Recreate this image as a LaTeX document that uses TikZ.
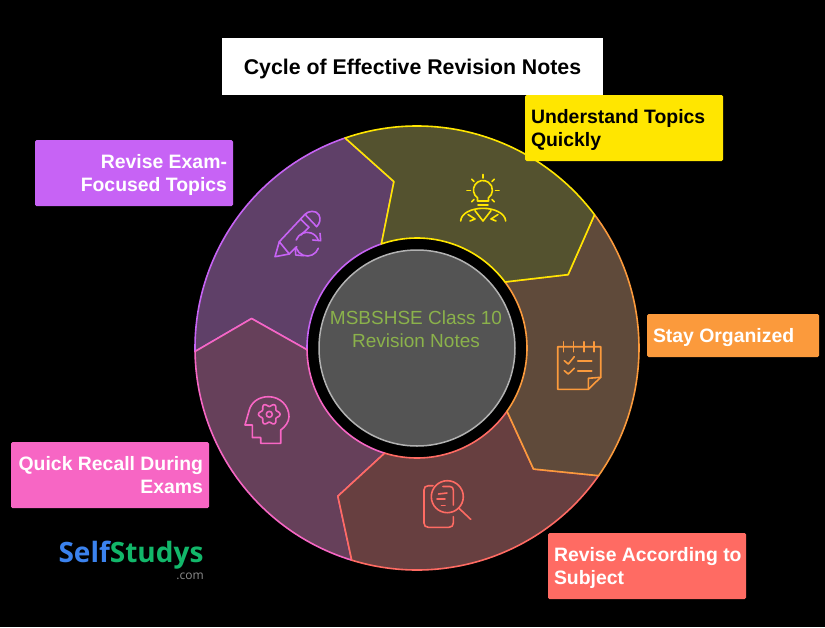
\documentclass[tikz,border=0pt]{standalone}
\usepackage{fontspec}
\setmainfont{Liberation Sans}
\newfontfamily\logofont{Open Sans}
\definecolor{cyellow}{HTML}{FFE600}
\definecolor{corange}{HTML}{FB9A3C}
\definecolor{cred}{HTML}{FF6B63}
\definecolor{cpink}{HTML}{F766C4}
\definecolor{cpurple}{HTML}{C763F5}
\definecolor{fyellow}{HTML}{54522F}
\definecolor{forange}{HTML}{5F4A3A}
\definecolor{fred}{HTML}{673F40}
\definecolor{fpink}{HTML}{66405A}
\definecolor{fpurple}{HTML}{5F4068}
\definecolor{ctext}{HTML}{8BB24B}
\definecolor{lblue}{HTML}{3B82EE}
\definecolor{lgreen}{HTML}{12B76A}
\begin{document}
\begin{tikzpicture}[x=1pt,y=-1pt]
		\tikzstyle{segment}=[line width=1.6pt,line join=round]
		\tikzstyle{icon}=[line width=1.6pt,line cap=round,line join=round]
		\tikzstyle{tag}=[rounded corners=1.5pt,inner sep=6pt,text=white,text height=14pt,text depth=24pt,
							minimum height=66pt,text width=186pt,
							font=\fontsize{19.4}{23}\selectfont\bfseries]
		
		\fill[black] (0,0) rectangle (825,627);
		
		% segments
		\begin{scope}[shift={(417,348)}]
			\foreach \edge/\inner/\a in {cpurple/fpurple/-180.9, cpink/fpink/107.1, cred/fred/35.1, corange/forange/-36.9, cyellow/fyellow/-108.9}
				\draw[segment,draw=\edge,fill=\inner] (\a:222) arc[start angle=\a,delta angle=72,radius=222] -- (\a+83:168) -- (\a+72:110) arc[start angle=\a+72,delta angle=-72,radius=110] -- (\a+11:168) -- cycle;
			
			% centre
			\node[circle,draw=black!30,line width=1.5pt,fill=black!67,minimum size=196pt,inner sep=0pt] (centre) at (0,0) {};
			\node[text=ctext,align=center,inner sep=0pt,font=\fontsize{19}{23}\selectfont] (centrelabel) at (-1,-18.5) {MSBSHSE Class 10\\Revision Notes};
		\end{scope}
		
		% title
		\node[fill=white,minimum width=381pt,minimum height=57pt,inner sep=0pt,text depth=0pt,font=\fontsize{21.3}{26}\selectfont\bfseries] (title) at (412.5,66.5) {Cycle of Effective Revision Notes};
		
		% tags
		\node[tag,fill=cyellow,text=black,align=flush left] (understand) at (624,128) {Understand Topics\\Quickly};
		\node[tag,fill=cpurple,align=flush right] (exam) at (134,173) {Revise Exam-\\Focused Topics};
		\node[tag,fill=corange,text width=160pt,minimum height=43pt,text depth=0pt,align=flush left] (organized) at (733,335.5) {Stay Organized};
		\node[tag,fill=cred,align=flush left] (subject) at (647,566) {\mbox{Revise According to}\\Subject};
		\node[tag,fill=cpink,align=flush right] (recall) at (110,475) {Quick Recall During\\Exams};
		
		% logo
		\node[inner sep=0pt,font=\logofont\fontsize{28}{30}\selectfont\bfseries] (logo) at (131,555) {\textcolor{lblue}{Self}\textcolor{lgreen}{Studys}};
		\node[inner sep=0pt,anchor=east,text=black!45,font=\logofont\fontsize{12}{14}\selectfont] (logocom) at (204,576) {.com};
		
		% bulb
		\begin{scope}[icon,draw=cyellow]
			\draw (477.5,201) -- (477.5,197.8) arc[start angle=125,delta angle=290,radius=9.5] -- (488.5,201) -- cycle;
			\draw (478,205) -- (488,205);
			\foreach \a in {-135,-90,-45,0,45,135,180}
				\draw (483,190.5) ++(\a:12.5) -- ++(\a:3.5);
			\draw (460.7,221) .. controls (461,213) and (472,208.3) .. (483,208.3) .. controls (494,208.3) and (505,213) .. (505.7,221);
			\draw (475,210.7) -- (483,221) -- (491,210.7);
			\draw (468,214.5) -- (475,219) -- (470,221);
			\draw (498,214.5) -- (491,219) -- (496,221);
		\end{scope}
		
		% pencil
		\begin{scope}[icon,draw=cpurple]
			\draw (275,256.7) -- (289.3,254) -- (279.3,241.7) -- cycle;
			\draw (279.3,241.7) -- (305,214.3) .. controls (308,211) and (316,209.5) .. (319,215) .. controls (321,219) and (320,223) .. (316.7,226.7) -- (305,214.3);
			\draw (300.7,219.3) -- (309,227.3) -- (301,235);
			\draw (289.3,254) -- (296.7,246.7);
			\draw (296.2,240) arc[start angle=200,end angle=342,radius=11.7];
			\draw (320,233.3) -- (320.7,240.7) -- (312.7,240);
			\draw (318.3,248.3) arc[start angle=20,end angle=160,radius=11.7];
			\draw (303.3,255.7) -- (295.7,255) -- (295.3,247.3);
		\end{scope}
		
		% head
		\begin{scope}[icon,draw=cpink]
			\draw (245,425) -- (249,411) .. controls (251,402) and (259,396.7) .. (268.5,396.7) .. controls (280,396.7) and (289,405.5) .. (289,416.7) .. controls (289,422) and (285,427) .. (280.7,430) -- (280.7,443.3) -- (260.7,443.3) -- (260.7,437.5) -- (252.3,437.5) -- (252.3,425) -- cycle;
			\draw[shift={(269.3,414.3)}] plot[domain=0:360,samples=73,smooth] ({cos(\x)*(9.3+1.5*cos(6*\x))},{sin(\x)*(9.3+1.5*cos(6*\x))}) -- cycle;
			\draw (269.3,414.3) circle[radius=3];
		\end{scope}
		
		% search
		\begin{scope}[icon,draw=cred]
			\draw (447.3,496.7) circle[radius=16];
			\draw (459,508.3) -- (470.7,519.3);
			\draw (433,485.7) -- (428.3,485.7) .. controls (425.5,485.7) and (424,487.5) .. (424,490) -- (424,523) .. controls (424,525.5) and (425.5,527.3) .. (428.3,527.3) -- (449,527.3) .. controls (451.8,527.3) and (453.3,525.5) .. (453.3,523) -- (453.3,516.7);
			\draw (443,486.5) -- (450,486.5) .. controls (452,486.5) and (453.3,488) .. (453.3,490) -- (453.3,505);
			\draw (438.5,494) -- (447,493);
			\draw (437,499) -- (445,499);
			\draw (441.5,505.5) -- (445,505.5);
		\end{scope}
		
		% notepad
		\begin{scope}[icon,draw=corange]
			\draw (588.3,389.3) -- (557.7,389.3) -- (557.7,346.7) -- (600.7,346.7) -- (600.7,377.3) -- cycle;
			\draw (588.3,389.3) -- (588.3,378.3) -- (600.7,377.3);
			\foreach \x in {563.3,573.3,584,594}
				\draw (\x,341.7) -- (\x,351.7);
			\draw (564.3,360.7) -- (568.3,364) -- (574.3,356.7);
			\draw (577.7,360.7) -- (591.7,360.7);
			\draw (564.3,370.7) -- (568.3,374) -- (574.3,368.3);
			\draw (577.7,370.7) -- (591.7,370.7);
		\end{scope}
		
\end{tikzpicture}
\end{document}
